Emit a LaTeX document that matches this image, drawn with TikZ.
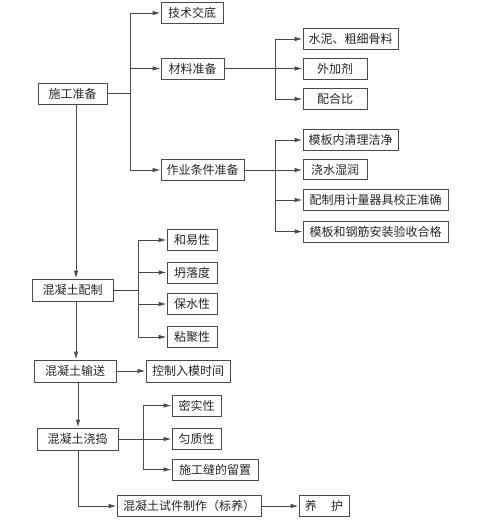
\documentclass[tikz,border=0pt]{standalone}
\usepackage{fontspec}
\newfontfamily\cjk{Noto Sans CJK SC}
\usetikzlibrary{arrows.meta}
\definecolor{ln}{HTML}{4A4A4A}
\tikzset{
  box/.style={draw=ln, line width=0.9pt, rectangle, inner sep=0pt, minimum height=20.5pt, font=\cjk\fontsize{12}{12}\selectfont, text=black!85},
  arr/.style={draw=ln, line width=0.9pt, -{Latex[length=8pt,width=4.5pt]}},
  ln/.style={draw=ln, line width=0.9pt}
}
\begin{document}
\begin{tikzpicture}[x=1pt,y=-1pt]
\useasboundingbox (0,0) rectangle (484,522);
% nodes
\node[box, minimum width=69pt, minimum height=21pt] (sg) at (72.5,93.5) {施工准备};
\node[box, minimum width=62pt] (jsjd) at (192,13) {技术交底};
\node[box, minimum width=63pt, minimum height=21pt] (cl) at (192.5,68.5) {材料准备};
\node[box, minimum width=83pt] (zy) at (202.5,170) {作业条件准备};
\node[box, minimum width=95pt] (sn) at (350.5,39) {水泥、粗细骨料};
\node[box, minimum width=64pt, minimum height=21pt] (wj) at (335,68.5) {外加剂};
\node[box, minimum width=64pt] (phb) at (335,99) {配合比};
\node[box, minimum width=95pt] (mb) at (350.5,140) {模板内清理洁净};
\node[box, minimum width=64pt] (jssr) at (335,169.5) {浇水湿润};
\node[box, minimum width=145pt] (jl) at (375.5,200) {配制用计量器具校正准确};
\node[box, minimum width=145pt, minimum height=21pt] (gj) at (375.5,231.5) {模板和钢筋安装验收合格};
\node[box, minimum width=81pt, minimum height=22pt] (pz) at (72.5,290) {混凝土配制};
\node[box, minimum width=50pt] (hy) at (192,240) {和易性};
\node[box, minimum width=50pt, minimum height=21pt] (tl) at (192,272.5) {坍落度};
\node[box, minimum width=50pt] (bs) at (192,304) {保水性};
\node[box, minimum width=50pt] (nj) at (192,337) {粘聚性};
\node[box, minimum width=82pt, minimum height=22pt] (ss) at (75,371) {混凝土输送};
\node[box, minimum width=84pt, minimum height=22pt] (kz) at (188,371) {控制入模时间};
\node[box, minimum width=81pt, minimum height=22pt] (jd) at (77.5,439) {混凝土浇捣};
\node[box, minimum width=49pt, minimum height=21pt] (ms) at (196.5,405.5) {密实性};
\node[box, minimum width=49pt, minimum height=21pt] (yz) at (196.5,438.5) {匀质性};
\node[box, minimum width=86pt, minimum height=21pt] (sf) at (215,469.5) {施工缝的留置};
\node[box, minimum width=144pt] (sj) at (189,506) {混凝土试件制作（标养）};
\node[box, minimum width=50pt] (yh) at (324,506) {养\hspace{1.2em}护};
% helper coordinates
\coordinate (v1) at (76,0);
\coordinate (v2) at (78,0);
\coordinate (b1) at (130,0);
\coordinate (b2) at (275,0);
\coordinate (b3) at (138,0);
\coordinate (b4) at (143,0);
\coordinate (c1) at (0,506);
% main flow
\draw[arr] (sg.south -| v1) -- (pz.north -| v1);
\draw[arr] (pz.south -| v1) -- (ss.north -| v1);
\draw[arr] (ss.south -| v2) -- (jd.north -| v2);
\draw[ln] (jd.south -| v2) -- (c1 -| v2);
\draw[arr] (c1 -| v2) -- (sj.west);
\draw[arr] (sj.east) -- (yh.west);
% 施工准备 branches
\draw[ln] (sg.east) -- (sg.east -| b1);
\draw[ln] (jsjd.west -| b1) -- (zy.west -| b1);
\draw[arr] (jsjd.west -| b1) -- (jsjd.west);
\draw[arr] (cl.west -| b1) -- (cl.west);
\draw[arr] (zy.west -| b1) -- (zy.west);
% 材料准备 branches
\draw[arr] (cl.east) -- (wj.west);
\draw[ln] (sn.west -| b2) -- (phb.west -| b2);
\draw[arr] (sn.west -| b2) -- (sn.west);
\draw[arr] (phb.west -| b2) -- (phb.west);
% 作业条件准备 branches
\draw[arr] (zy.east) -- (zy.east -| jssr.west);
\draw[ln] (mb.west -| b2) -- (gj.west -| b2);
\draw[arr] (mb.west -| b2) -- (mb.west);
\draw[arr] (jl.west -| b2) -- (jl.west);
\draw[arr] (gj.west -| b2) -- (gj.west);
% 混凝土配制 branches
\draw[ln] (pz.east) -- (pz.east -| b3);
\draw[ln] (hy.west -| b3) -- (nj.west -| b3);
\draw[arr] (hy.west -| b3) -- (hy.west);
\draw[arr] (tl.west -| b3) -- (tl.west);
\draw[arr] (bs.west -| b3) -- (bs.west);
\draw[arr] (nj.west -| b3) -- (nj.west);
% 混凝土输送
\draw[arr] (ss.east) -- (kz.west);
% 混凝土浇捣 branches
\draw[arr] (jd.east) -- (jd.east -| yz.west);
\draw[ln] (ms.west -| b4) -- (sf.west -| b4);
\draw[arr] (ms.west -| b4) -- (ms.west);
\draw[arr] (sf.west -| b4) -- (sf.west);
\end{tikzpicture}
\end{document}
